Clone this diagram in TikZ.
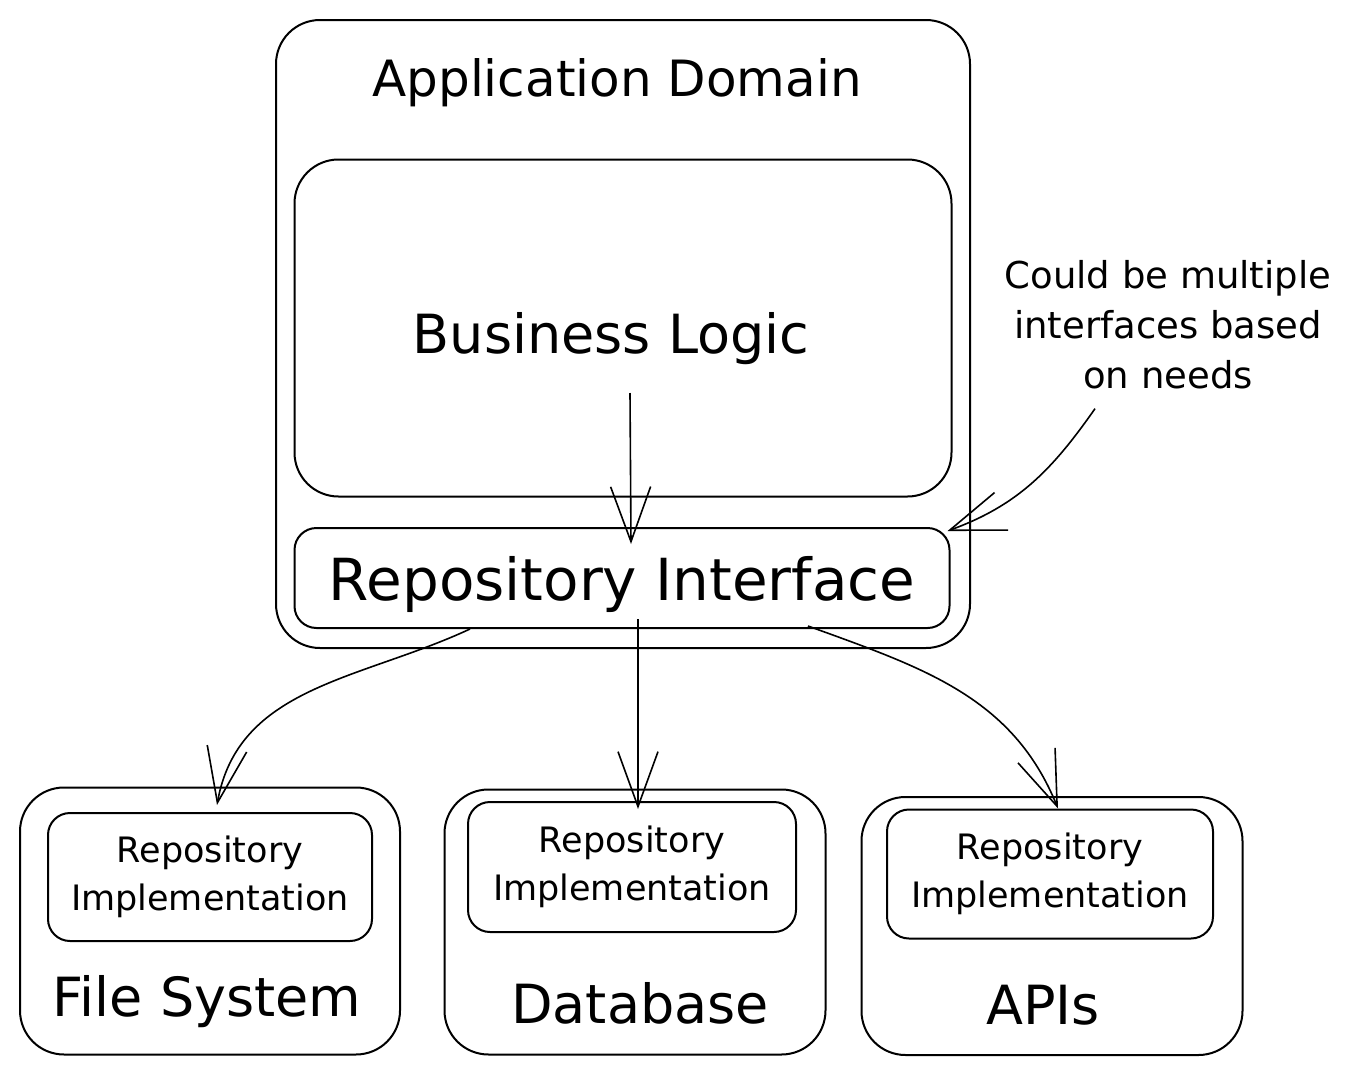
\documentclass[tikz,border=0pt]{standalone}
\usepackage{fontspec}
\setmainfont{DejaVu Sans}
\usetikzlibrary{arrows.meta}

\begin{document}
\begin{tikzpicture}[x=1pt,y=-1pt,line width=2pt,
  box/.style={rectangle,draw=black,rounded corners=44pt},
  smallbox/.style={rectangle,draw=black,rounded corners=22pt},
  lbl/.style={text depth=0pt,font=\fontsize{54}{60}\selectfont},
  impl/.style={align=center,font=\fontsize{35}{48}\selectfont},
  arr/.style={line width=1.6pt,-{Straight Barb[length=55pt,width=40pt,line width=1.6pt]}}]
\useasboundingbox (0,0) rectangle (1366,1076);
% application domain
\node[box,minimum width=694pt,minimum height=628pt] (AD) at (623,334) {};
\node[text depth=0pt,font=\fontsize{50}{60}\selectfont] (ADt) at (617,78) {Application Domain};
\node[box,minimum width=657pt,minimum height=337pt] (BL) at (623,328) {};
\node[lbl] (BLt) at (611,333) {Business Logic};
\node[smallbox,minimum width=655pt,minimum height=100pt,lbl,font=\fontsize{58}{60}\selectfont] (RI) at (622,578) {Repository Interface};
% note
\node[align=center,font=\fontsize{37}{50}\selectfont] (note) at (1168,325) {Could be multiple\\interfaces based\\on needs};
% implementations
\node[box,minimum width=380pt,minimum height=267pt] (FS) at (210,921) {};
\node[box,minimum width=381pt,minimum height=265pt] (DB) at (635,922) {};
\node[box,minimum width=381pt,minimum height=258pt] (API) at (1052,926) {};
\node[smallbox,minimum width=324pt,minimum height=128pt,impl] (FSI) at (210,877) {Repository\\Implementation};
\node[smallbox,minimum width=328pt,minimum height=130pt,impl] (DBI) at (632,867) {Repository\\Implementation};
\node[smallbox,minimum width=326pt,minimum height=129pt,impl] (APII) at (1050,874) {Repository\\Implementation};
\node[lbl] (FSt) at (207,996) {File System};
\node[lbl] (DBt) at (640,1003) {Database};
\node[lbl] (APIt) at (1043,1005) {APIs};
% connectors
\draw[arr] ([xshift=7pt,yshift=-65pt]BL.center) -- ([xshift=9pt,yshift=-17pt]RI.north);
\draw[arr] ([xshift=-73pt,yshift=-15pt]note.south) to[out=235,in=20] ([xshift=-3pt,yshift=-4pt]RI.north east);
\draw[arr] ([xshift=-152pt]RI.south) to[out=205,in=80] ([xshift=7pt,yshift=7pt]FSI.north);
\draw[arr] ([xshift=16pt,yshift=10pt]RI.south) -- ([xshift=6pt,yshift=-8pt]DBI.north);
\draw[arr] ([xshift=186pt,yshift=3pt]RI.south) to[out=340,in=112] ([xshift=8pt]APII.north);
\end{tikzpicture}
\end{document}
